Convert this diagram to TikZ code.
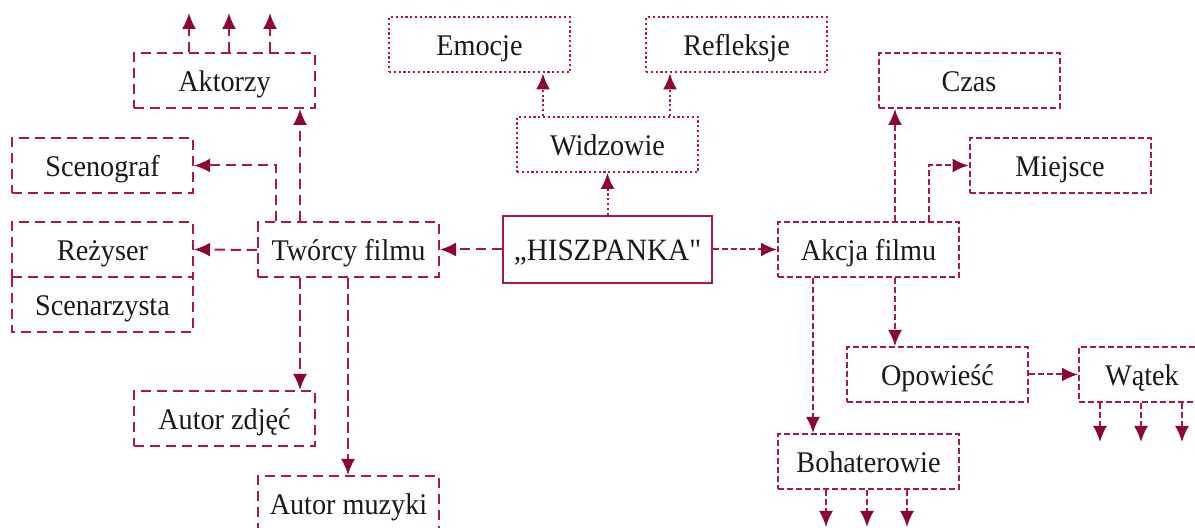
\documentclass[tikz,border=0pt]{standalone}
\usepackage{fontspec}
\setmainfont{Liberation Serif}[Ligatures=TeXOff,FakeStretch=0.94]
\usetikzlibrary{arrows.meta}
\definecolor{lc}{RGB}{168,24,72}
\definecolor{tc}{RGB}{140,6,48}
\definecolor{txt}{RGB}{25,25,25}
\begin{document}
\begin{tikzpicture}[x=0.5pt,y=-0.5pt,
 box/.style={draw=lc, line width=1pt, minimum width=90.5pt, minimum height=27.5pt, inner sep=0pt, text height=11pt, text depth=0pt, text=txt, font=\fontsize{15}{18}\selectfont},
 tw/.style={dash pattern=on 5.2pt off 2.8pt},
 ak/.style={dash pattern=on 3pt off 1.5pt},
 wd/.style={dash pattern=on 1.1pt off 1.3pt},
 con/.style={draw=lc, line width=1pt, -{Latex[length=8pt,width=7pt,color=tc]}},
]
\path[use as bounding box] (0,0) rectangle (1195,528);
\clip (0,0) rectangle (1195,528);

% nodes
\node[box,minimum width=104.5pt,minimum height=33.5pt,line width=1.1pt,font=\fontsize{15.5}{19}\selectfont] (hi) at (607.5,249.5) {„HISZPANKA"};
\node[box,wd] (wid) at (607.5,144.5) {Widzowie};
\node[box,wd] (emo) at (479.5,45) {Emocje};
\node[box,wd] (ref) at (736.5,45) {Refleksje};

\node[box,tw] (tw) at (348.5,250) {Twórcy filmu};
\node[box,tw] (akt) at (224.5,80.5) {Aktorzy};
\node[box,tw] (sce) at (102.5,165.5) {Scenograf};
\node[box,tw] (rez) at (102.5,249.5) {Reżyser};
\node[box,tw,draw=none,outer sep=0pt] (scn) at (102.5,304.5) {Scenarzysta};
\draw[draw=lc,line width=1pt,tw] (scn.north west) -- (scn.south west) -- (scn.south east) -- (scn.north east);
\node[box,tw] (az) at (224.5,418.5) {Autor zdjęć};
\node[box,tw] (am) at (348.5,503.5) {Autor muzyki};

\node[box,ak] (akc) at (868.5,250) {Akcja filmu};
\node[box,ak] (cz) at (969,80.5) {Czas};
\node[box,ak] (mie) at (1060,165.5) {Miejsce};
\node[box,ak] (op) at (937.5,374.5) {Opowieść};
\node[box,ak,minimum width=76pt] (wat) at (1155,374.5) {\hspace*{-13pt}Wątek};
\node[box,ak] (boh) at (868.5,461.5) {Bohaterowie};

% free ends
\coordinate (u1) at (189,13);
\coordinate (u2) at (229,13);
\coordinate (u3) at (270,13);
\coordinate (w1) at (1100,442);
\coordinate (w2) at (1141,442);
\coordinate (w3) at (1182,442);
\coordinate (b1) at (826,527);
\coordinate (b2) at (867,527);
\coordinate (b3) at (907,527);

% connectors from HISZPANKA
\draw[con,tw] (hi.west) -- (hi.west -| tw.east);
\draw[con,ak] (hi.east) -- (hi.east -| akc.west);
\draw[con,wd] (hi.north) -- (wid.south);
\draw[con,wd] (wid.north -| 543,0) -- (emo.south -| 543,0);
\draw[con,wd] (wid.north -| 670,0) -- (ref.south -| 670,0);

% Twórcy filmu
\draw[con,tw] (tw.north -| 300,0) -- (akt.south -| 300,0);
\draw[con,tw] (tw.north -| 276,0) |- (sce.east);
\draw[con,tw] (tw.west) -- (rez.east);
\draw[con,tw] (tw.south -| 300,0) -- (az.north -| 300,0);
\draw[con,tw] (tw.south -| 348,0) -- (am.north -| 348,0);
\draw[con,tw] (akt.north -| u1) -- (u1);
\draw[con,tw] (akt.north -| u2) -- (u2);
\draw[con,tw] (akt.north -| u3) -- (u3);

% Akcja filmu
\draw[con,ak] (akc.north -| 895,0) -- (cz.south -| 895,0);
\draw[con,ak] (akc.north -| 929,0) |- (mie.west);
\draw[con,ak] (akc.south -| 895,0) -- (op.north -| 895,0);
\draw[con,ak] (akc.south -| 813,0) -- (boh.north -| 813,0);
\draw[con,ak] (op.east) -- (wat.west);
\draw[con,ak] (wat.south -| w1) -- (w1);
\draw[con,ak] (wat.south -| w2) -- (w2);
\draw[con,ak] (wat.south -| w3) -- (w3);
\draw[con,ak] (boh.south -| b1) -- (b1);
\draw[con,ak] (boh.south -| b2) -- (b2);
\draw[con,ak] (boh.south -| b3) -- (b3);
\end{tikzpicture}
\end{document}
